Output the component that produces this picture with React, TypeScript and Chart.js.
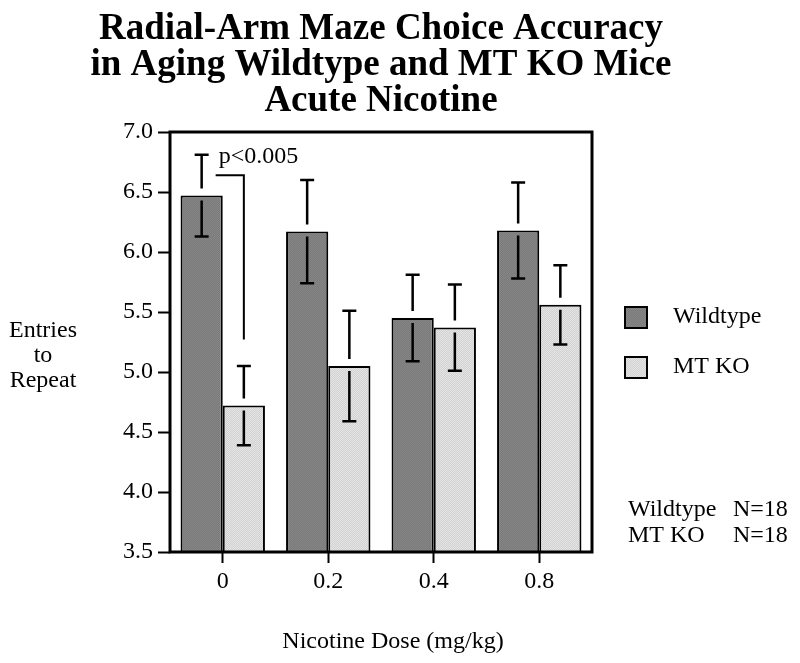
import React, { useEffect, useRef } from "react";
import { Chart, registerables } from "chart.js";

Chart.register(...registerables);

// ---- data ----
const doses = ["0", "0.2", "0.4", "0.8"];
const seriesNames = ["Wildtype", "MT KO"];
const wildtypeMeans = [6.47, 6.17, 5.45, 6.18];
const wildtypeSem = [0.34, 0.43, 0.36, 0.4];
const mtkoMeans = [4.72, 5.05, 5.37, 5.56];
const mtkoSem = [0.33, 0.46, 0.36, 0.33];
const sampleSizes = [18, 18];
const yMin = 3.5;
const yMax = 7.0;
const yStep = 0.5;
const titleLines = [
  "Radial-Arm Maze Choice Accuracy",
  "in Aging Wildtype and MT KO Mice",
  "Acute Nicotine",
];
const yTitleLines = ["Entries", "to", "Repeat"];
const xTitle = "Nicotine Dose (mg/kg)";
const sigText = "p<0.005";
const bracketTopValue = 6.64;
const bracketBottomValue = 5.27;

const SERIF = "'Liberation Serif', 'Times New Roman', serif";

function makePattern(a: string, b: string): CanvasPattern | string {
  const c = document.createElement("canvas");
  c.width = 2;
  c.height = 2;
  const g = c.getContext("2d");
  if (!g) return a;
  g.fillStyle = a;
  g.fillRect(0, 0, 2, 2);
  g.fillStyle = b;
  g.fillRect(0, 0, 1, 1);
  g.fillRect(1, 1, 1, 1);
  const p = g.createPattern(c, "repeat");
  return p || a;
}

export default function App() {
  const ref = useRef<HTMLCanvasElement | null>(null);

  useEffect(() => {
    if (!ref.current) return;
    const wtFill = makePattern("#7a7a7a", "#868686");
    const koFill = makePattern("#d2d2d2", "#e4e4e4");
    const means = [wildtypeMeans, mtkoMeans];
    const sems = [wildtypeSem, mtkoSem];

    const errorBars = {
      id: "errorBars",
      afterDatasetsDraw(chart: any) {
        const ctx = chart.ctx;
        const ys = chart.scales.y;
        ctx.save();
        ctx.strokeStyle = "#000";
        ctx.lineWidth = 2.5;
        chart.data.datasets.forEach((_ds: any, di: number) => {
          const meta = chart.getDatasetMeta(di);
          meta.data.forEach((bar: any, i: number) => {
            const x = bar.x;
            const top = ys.getPixelForValue(means[di][i] + sems[di][i]);
            const bot = ys.getPixelForValue(means[di][i] - sems[di][i]);
            const yb = bar.y;
            ctx.beginPath();
            ctx.moveTo(x, top);
            ctx.lineTo(x, yb - 7);
            ctx.moveTo(x, yb + 5);
            ctx.lineTo(x, bot);
            ctx.moveTo(x - 7, top);
            ctx.lineTo(x + 7, top);
            ctx.moveTo(x - 7, bot);
            ctx.lineTo(x + 7, bot);
            ctx.stroke();
          });
        });
        // significance bracket
        const wt0 = chart.getDatasetMeta(0).data[0];
        const ko0 = chart.getDatasetMeta(1).data[0];
        const bt = ys.getPixelForValue(bracketTopValue);
        const bb = ys.getPixelForValue(bracketBottomValue);
        const bl = wt0.x + 14;
        ctx.lineWidth = 2;
        ctx.beginPath();
        ctx.moveTo(bl, bt);
        ctx.lineTo(ko0.x, bt);
        ctx.lineTo(ko0.x, bb);
        ctx.stroke();
        ctx.fillStyle = "#000";
        ctx.font = `24px ${SERIF}`;
        ctx.textAlign = "left";
        ctx.textBaseline = "alphabetic";
        ctx.fillText(sigText, bl + 3, bt - 12);
        ctx.restore();
      },
    };

    const decorations = {
      id: "decorations",
      afterDraw(chart: any) {
        const ctx = chart.ctx;
        const a = chart.chartArea;
        ctx.save();
        // frame
        ctx.strokeStyle = "#000";
        ctx.lineWidth = 3;
        ctx.strokeRect(a.left, a.top, a.right - a.left, a.bottom - a.top);
        ctx.fillStyle = "#000";
        // title
        ctx.font = `bold 37px ${SERIF}`;
        ctx.textAlign = "center";
        ctx.textBaseline = "alphabetic";
        const cx = (a.left + a.right) / 2;
        titleLines.forEach((t, i) => ctx.fillText(t, cx, 39 + i * 36));
        // y title
        ctx.font = `24px ${SERIF}`;
        yTitleLines.forEach((t, i) => ctx.fillText(t, 43, 337 + i * 25));
        // x title
        ctx.fillText(xTitle, cx + 12, 648);
        // legend
        const fills = [wtFill, koFill];
        const boxY = [307, 357];
        seriesNames.forEach((n, i) => {
          ctx.fillStyle = fills[i];
          ctx.fillRect(625, boxY[i], 22, 21);
          ctx.strokeStyle = "#000";
          ctx.lineWidth = 2;
          ctx.strokeRect(625, boxY[i], 22, 21);
          ctx.fillStyle = "#000";
          ctx.textAlign = "left";
          ctx.fillText(n, 673, boxY[i] + 16);
        });
        // sample sizes
        seriesNames.forEach((n, i) => {
          ctx.fillText(n, 628, 516 + i * 26);
          ctx.fillText(`N=${sampleSizes[i]}`, 733, 516 + i * 26);
        });
        ctx.restore();
      },
    };

    const chart = new Chart(ref.current, {
      type: "bar",
      data: {
        labels: doses,
        datasets: [
          {
            label: seriesNames[0],
            data: wildtypeMeans,
            backgroundColor: wtFill as any,
            borderColor: "#000",
            borderWidth: 2,
            categoryPercentage: 0.8,
            barPercentage: 1.0,
          },
          {
            label: seriesNames[1],
            data: mtkoMeans,
            backgroundColor: koFill as any,
            borderColor: "#000",
            borderWidth: 2,
            categoryPercentage: 0.8,
            barPercentage: 1.0,
          },
        ],
      },
      options: {
        responsive: false,
        animation: false,
        layout: { padding: { top: 132, right: 208, left: 0, bottom: 0 } },
        plugins: {
          legend: { display: false },
          title: { display: false },
          tooltip: { enabled: false },
        },
        scales: {
          x: {
            offset: true,
            grid: {
              offset: false,
              drawOnChartArea: false,
              drawTicks: true,
              tickLength: 11,
              tickWidth: 2,
              tickColor: "#000",
            },
            border: { display: false },
            ticks: {
              color: "#000",
              font: { family: SERIF, size: 24 },
              padding: 4,
              maxRotation: 0,
            },
            afterFit: (s: any) => {
              s.height = 111;
            },
          },
          y: {
            min: yMin,
            max: yMax,
            grid: {
              drawOnChartArea: false,
              drawTicks: true,
              tickLength: 12,
              tickWidth: 2,
              tickColor: "#000",
            },
            border: { display: false },
            ticks: {
              stepSize: yStep,
              color: "#000",
              font: { family: SERIF, size: 24 },
              padding: 5,
              callback: (v: any) => Number(v).toFixed(1),
            },
            afterFit: (s: any) => {
              s.width = 170;
            },
          },
        },
      },
      plugins: [errorBars, decorations],
    });

    return () => chart.destroy();
  }, []);

  return (
    <div
      style={{
        position: "fixed",
        left: 0,
        top: 0,
        width: 800,
        height: 663,
        background: "#fff",
      }}
    >
      <canvas ref={ref} width={800} height={663} style={{ display: "block" }} />
    </div>
  );
}
